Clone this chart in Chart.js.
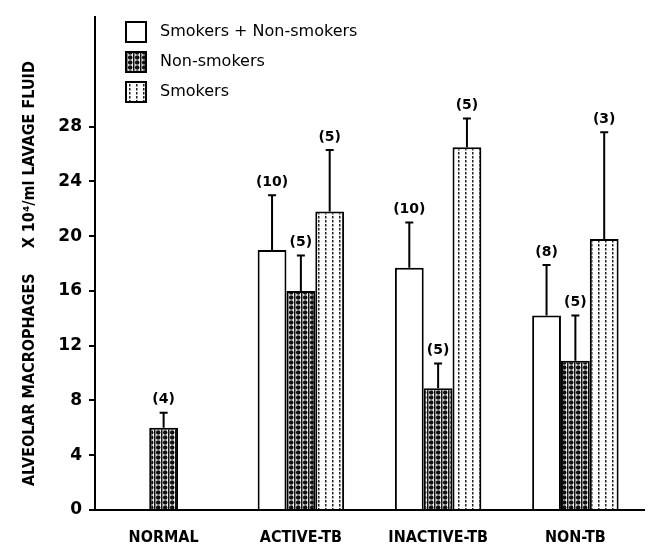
<!DOCTYPE html>
<html>
<head>
<meta charset="utf-8">
<script src="https://cdn.jsdelivr.net/npm/chart.js@4/dist/chart.umd.min.js"></script>
<style>
  body { margin: 0; background: #fff; }
</style>
</head>
<body>
<canvas id="chart" width="659" height="550"></canvas>
<script>
// groups along the x axis
const categories = ['NORMAL', 'ACTIVE-TB', 'INACTIVE-TB', 'NON-TB'];
const yTicks = [0, 4, 8, 12, 16, 20, 24, 28];

// smokers + non-smokers
const bothMean = [null, 19.0, 17.7, 14.2];
const bothErr = [null, 23.0, 21.0, 17.9];
const bothN = [null, 10, 10, 8];

// non-smokers
const nonMean = [6.0, 16.0, 8.9, 10.9];
const nonErr = [7.1, 18.6, 10.7, 14.2];
const nonN = [4, 5, 5, 5];

// smokers
const smkMean = [null, 21.8, 26.5, 19.8];
const smkErr = [null, 26.3, 28.6, 27.6];
const smkN = [null, 5, 5, 3];

var fontCond = "'DejaVu Sans Condensed', 'DejaVu Sans', sans-serif";
var fontWide = "'DejaVu Sans', sans-serif";

function dotPattern() {
    var c = document.createElement('canvas');
    c.width = 7; c.height = 5;
    var g = c.getContext('2d');
    g.fillStyle = '#fff';
    g.fillRect(0, 0, 7, 5);
    g.fillStyle = '#111';
    g.fillRect(0, 0, 1.5, 5);
    g.beginPath();
    g.arc(4.2, 2.5, 2.3, 0, Math.PI * 2);
    g.fill();
    return g.createPattern(c, 'repeat');
}

function stripePattern() {
    var c = document.createElement('canvas');
    c.width = 7; c.height = 4;
    var g = c.getContext('2d');
    g.fillStyle = '#fff';
    g.fillRect(0, 0, 7, 4);
    g.fillStyle = '#222';
    g.fillRect(3, 0, 1.5, 2.5);
    return g.createPattern(c, 'repeat');
}

var nonFill = dotPattern();
var smkFill = stripePattern();

const errorBars = {
    id: 'errorBars',
    afterDatasetsDraw(chart) {
        var ctx = chart.ctx;
        var ys = chart.scales.y;
        ctx.save();
        ctx.strokeStyle = '#000';
        ctx.fillStyle = '#000';
        ctx.lineWidth = 2;
        ctx.font = 'bold 14px ' + fontWide;
        ctx.textAlign = 'center';
        ctx.textBaseline = 'bottom';
        chart.data.datasets.forEach(function(ds, i) {
            var meta = chart.getDatasetMeta(i);
            meta.data.forEach(function(bar, j) {
                if (ds.errTop[j] == null) return;
                var yt = ys.getPixelForValue(ds.errTop[j]);
                ctx.beginPath();
                ctx.moveTo(bar.x, bar.y);
                ctx.lineTo(bar.x, yt);
                ctx.moveTo(bar.x - 4, yt);
                ctx.lineTo(bar.x + 4, yt);
                ctx.stroke();
                ctx.fillText('(' + ds.nCount[j] + ')', bar.x, yt - 6);
            });
        });
        ctx.restore();
    }
};

const boxLegend = {
    id: 'boxLegend',
    afterDraw(chart) {
        var ctx = chart.ctx;
        ctx.save();
        ctx.font = '16px ' + fontWide;
        ctx.textBaseline = 'middle';
        ctx.textAlign = 'left';
        chart.data.datasets.forEach(function(ds, i) {
            var y = 22 + i * 30;
            ctx.fillStyle = ds.backgroundColor;
            ctx.fillRect(126, y, 20, 20);
            ctx.strokeStyle = '#000';
            ctx.lineWidth = 2;
            ctx.strokeRect(126, y, 20, 20);
            ctx.fillStyle = '#000';
            ctx.fillText(ds.label, 160, y + 10);
        });
        ctx.restore();
    }
};

const data = {
    labels: categories,
    datasets: [{
        label: 'Smokers + Non-smokers',
        data: bothMean,
        errTop: bothErr,
        nCount: bothN,
        backgroundColor: '#fff',
        borderColor: '#000',
        borderWidth: 2,
    }, {
        label: 'Non-smokers',
        data: nonMean,
        errTop: nonErr,
        nCount: nonN,
        backgroundColor: nonFill,
        borderColor: '#000',
        borderWidth: 2,
    }, {
        label: 'Smokers',
        data: smkMean,
        errTop: smkErr,
        nCount: smkN,
        backgroundColor: smkFill,
        borderColor: '#000',
        borderWidth: 2,
    }]
};

const options = {
    animation: false,
    responsive: false,
    layout: {
        padding: { left: 16, top: 13, right: 15, bottom: 0 }
    },
    categoryPercentage: 0.63,
    barPercentage: 1.0,
    scales: {
        x: {
            grid: { display: false },
            border: { display: true, color: '#000', width: 2 },
            ticks: {
                color: '#000',
                padding: 10,
                font: { family: fontCond, size: 16, weight: 'bold' },
            },
            afterFit(scale) { scale.height = 40; }
        },
        y: {
            min: 0,
            max: 36,
            afterBuildTicks(scale) {
                scale.ticks = yTicks.map(function(v) { return { value: v }; });
            },
            grid: {
                drawOnChartArea: false,
                drawTicks: true,
                tickLength: 6,
                color: '#000',
                lineWidth: 2,
            },
            border: { display: true, color: '#000', width: 2 },
            ticks: {
                color: '#000',
                padding: 7,
                font: { family: fontWide, size: 17, weight: 'bold' },
            },
            title: {
                display: true,
                text: 'ALVEOLAR MACROPHAGES     X 10\u2074/ml LAVAGE FLUID    ',
                color: '#000',
                font: { family: fontCond, size: 16, weight: 'bold' },
            },
            afterFit(scale) { scale.width = 79; }
        }
    },
    plugins: {
        legend: { display: false },
        tooltip: { enabled: false },
    },
};

const chart = new Chart(document.getElementById('chart'), {
    type: 'bar',
    data: data,
    options: options,
    plugins: [errorBars, boxLegend],
});
</script>
</body>
</html>
